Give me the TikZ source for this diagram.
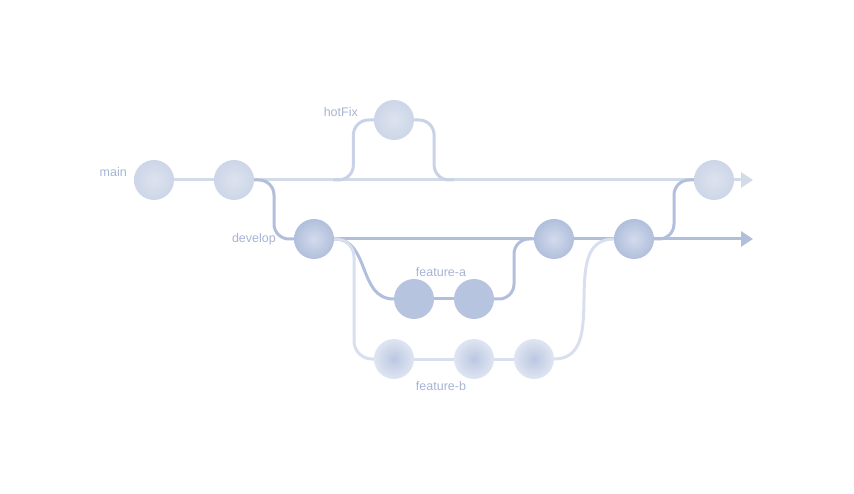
\documentclass[tikz,border=0pt]{standalone}
\usepackage{fontspec}
\setmainfont{Liberation Sans}
\usetikzlibrary{arrows.meta,backgrounds,calc}

\definecolor{mainline}{HTML}{D3DBE9}
\definecolor{hotline}{HTML}{C9D2E6}
\definecolor{devline}{HTML}{B2BFDC}
\definecolor{featbline}{HTML}{D8DFEE}
\definecolor{labelcol}{HTML}{A6B4D4}
\definecolor{mainin}{HTML}{DDE3EF}
\definecolor{mainout}{HTML}{CCD6E8}
\definecolor{devin}{HTML}{D3DBEC}
\definecolor{devout}{HTML}{B1BFDC}
\definecolor{fafill}{HTML}{B6C4E0}
\definecolor{fbin}{HTML}{BBC7E2}
\definecolor{fbout}{HTML}{DFE5F1}

\begin{document}
\begin{tikzpicture}[x=1pt,y=-1pt,
  commit/.style={circle,minimum size=40pt,inner sep=0pt},
  maincommit/.style={commit,shade,inner color=mainin,outer color=mainout},
  devcommit/.style={commit,shade,inner color=devin,outer color=devout},
  facommit/.style={commit,fill=fafill},
  fbcommit/.style={commit,shade,inner color=fbin,outer color=fbout},
  branchlabel/.style={text=labelcol,font=\fontsize{12.5}{14}\selectfont,inner sep=0pt},
  wire/.style={line width=3pt},
  bend/.style={wire,rounded corners=#1},
  tip/.style={-{Triangle[length=12pt,width=15pt]}}
]
\useasboundingbox (0,0) rectangle (854,494);

% commits
\node[maincommit] (m1) at (154,180) {};
\node[maincommit] (m2) at (234,180) {};
\node[maincommit] (hf) at (394,120) {};
\node[maincommit] (m3) at (714,180) {};
\node[devcommit] (d1) at (314,239) {};
\node[devcommit] (d2) at (554,239) {};
\node[devcommit] (d3) at (634,239) {};
\node[facommit] (a1) at (414,299) {};
\node[facommit] (a2) at (474,299) {};
\node[fbcommit] (b1) at (394,359) {};
\node[fbcommit] (b2) at (474,359) {};
\node[fbcommit] (b3) at (534,359) {};

% labels
\node[branchlabel,anchor=east] (lmain) at (127,172) {main};
\node[branchlabel,anchor=east] (lhot) at (358,112) {hotFix};
\node[branchlabel,anchor=east] (ldev) at (276,239) {develop};
\node[branchlabel] (lfa) at (441,272) {feature-a};
\node[branchlabel] (lfb) at (441,386) {feature-b};

% branch points and arrow ends
\coordinate (hfout) at (333,180);
\coordinate (hfin) at (454,180);
\coordinate (mainend) at (753,180);
\coordinate (devend) at (753,239);

\begin{scope}[on background layer]
\draw[wire,mainline] (m1) -- (m2) -- (m3);
\draw[wire,mainline,tip] (m3.east) -- (mainend);
\draw[bend=15pt,hotline] (hfout) -| ($(hfout)!.5!(hf.west)$) |- (hf.west);
\draw[bend=15pt,hotline] (hf.east) -| ($(hf.east)!.5!(hfin)$) |- (hfin);
\draw[bend=15pt,devline] (m2.east) -| ($(m2.east)!.5!(d1.west)$) |- (d1.west);
\draw[wire,devline] (d1) -- (d2) -- (d3);
\draw[wire,devline,tip] (d3.east) -- (devend);
\draw[wire,devline] (d1.east) to[out=0,in=180,looseness=1.1] (a1.west);
\draw[wire,devline] (a1) -- (a2);
\draw[bend=15pt,devline] (a2.east) -| ($(a2.east)!.5!(d2.west)$) |- (d2.west);
\draw[bend=15pt,devline] (d3.east) -| ($(d3.east)!.5!(m3.west)$) |- (m3.west);
\draw[bend=18pt,featbline] (d1.east) -| ($(d1.east)!.5!(b1.west)$) |- (b1.west);
\draw[wire,featbline] (b1) -- (b2) -- (b3);
\draw[wire,featbline] (b3.east) to[out=0,in=180,looseness=1.1] (d3.west);
\end{scope}
\end{tikzpicture}
\end{document}
